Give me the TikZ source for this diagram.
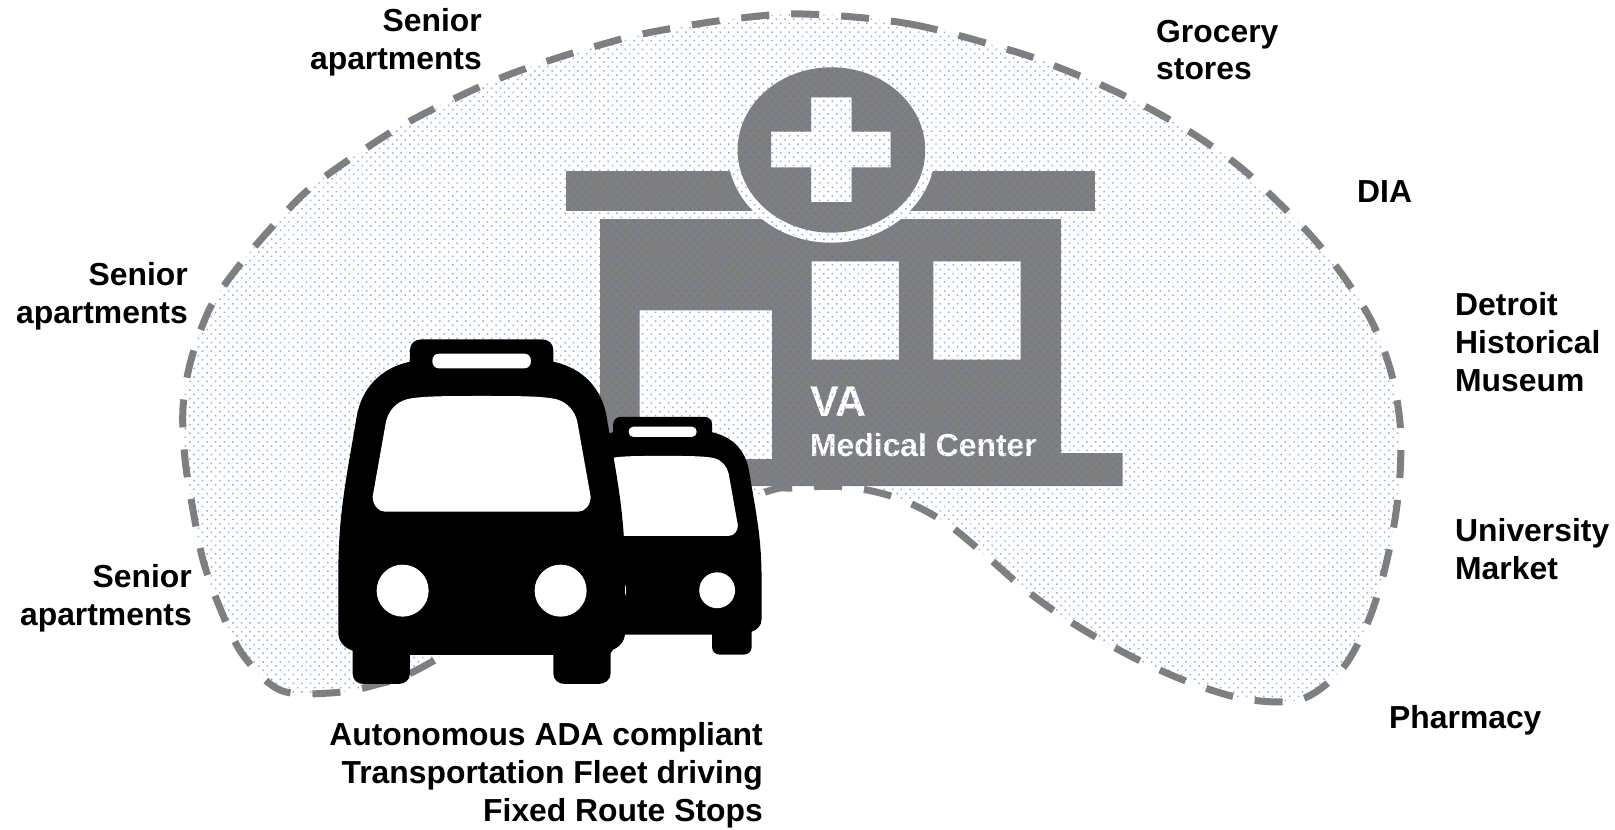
\documentclass[tikz,border=0pt]{standalone}
\usepackage{fontspec}
\setmainfont{Liberation Sans}
\usetikzlibrary{patterns.meta,calc}
\definecolor{bldg}{HTML}{7F7F7F}
\definecolor{dotc}{HTML}{4472C4}
\tikzset{
 lbl/.style={font=\fontsize{31.85}{37.9}\selectfont\bfseries,align=left,inner sep=0pt,anchor=west},
 lblr/.style={font=\fontsize{31.85}{37.9}\selectfont\bfseries,align=right,inner sep=0pt,anchor=east},
}
\newcommand{\busshape}{
 \fill[black,even odd rule]
  (330,125) -- (330,90) .. controls (330,70) and (345,58) .. (365,58) -- (725,58) .. controls (745,58) and (760,70) .. (760,90) -- (760,125)
  .. controls (850,145) and (905,205) .. (920,290) .. controls (950,470) and (975,580) .. (975,760) -- (975,940) .. controls (975,965) and (955,985) .. (932,992)
  -- (932,1060) .. controls (932,1080) and (915,1092) .. (895,1092) -- (795,1092) .. controls (775,1092) and (760,1080) .. (760,1060) -- (760,1005) -- (330,1005) -- (330,1060)
  .. controls (330,1080) and (315,1092) .. (295,1092) -- (190,1092) .. controls (172,1092) and (158,1080) .. (158,1060) -- (158,992) .. controls (135,985) and (115,965) .. (115,940)
  -- (115,760) .. controls (115,580) and (140,470) .. (170,290) .. controls (185,205) and (240,145) .. (330,125) -- cycle;
 \fill[white]
  (545,228) .. controls (650,228) and (730,228) .. (770,238) .. controls (805,248) and (825,275) .. (832,305) -- (872,530) .. controls (872,555) and (855,575) .. (835,575)
  -- (255,575) .. controls (235,575) and (218,555) .. (218,530) -- (258,305) .. controls (265,275) and (285,248) .. (320,238) .. controls (360,228) and (440,228) .. (545,228) -- cycle;
 \fill[white] (417,101) -- (673,101) .. controls (685,101) and (693,110) .. (693,123) .. controls (693,136) and (685,145) .. (673,145) -- (417,145) .. controls (405,145) and (397,136) .. (397,123) .. controls (397,110) and (405,101) .. (417,101) -- cycle;
 \fill[white] (308,812) circle (78);
 \fill[white] (782,812) circle (78);
}
\newcommand{\blobpath}{plot[smooth cycle,tension=0.55] coordinates {
 (803,14) (910,24) (1013,51) (1060,68) (1108,88) (1154,111) (1198,137) (1240,167) (1278,202) (1314,239) (1346,280) (1373,324) (1391,372) (1400,423) (1400,475) (1394,525) (1383,576) (1367,624) (1342,669) (1302,699) (1251,700) (1202,687) (1153,667) (1108,644) (1063,617) (1022,587) (983,553) (943,521) (897,498) (847,487) (795,488) (757,495) (600,560) (428,664) (375,685) (330,693) (280,690) (243,655) (220,608) (203,560) (193,510) (185,459) (183,408) (191,360) (210,308) (238,267) (272,227) (308,190) (350,159) (403,125) (462,95) (508,75) (557,58) (607,43) (647,33) (725,20)}}
\begin{document}
\begin{tikzpicture}[x=1pt,y=-1pt]
\useasboundingbox (0,0) rectangle (1615,830);
% building
\fill[bldg,even odd rule]
 (600,219) -- (1061,219) -- (1061,453) -- (1122.7,453) -- (1122.7,486) -- (600,486) -- cycle
 (639.5,310.3) rectangle (772,459)
 (811.6,261.3) rectangle (898.9,359.5)
 (933.3,261.3) rectangle (1020.6,359.5);
\fill[bldg] (566.3,170.7) rectangle (1095,211);
\fill[white] (831.4,150) ellipse [x radius=104,y radius=92.7];
\fill[bldg,even odd rule]
 (831.4,150) ellipse [x radius=93.8,y radius=82.7]
 (811.2,97.3) -- (851.5,97.3) -- (851.5,131.7) -- (890.7,131.7) -- (890.7,167.3) -- (851.5,167.3) -- (851.5,202) -- (811.2,202) -- (811.2,167.3) -- (771.2,167.3) -- (771.2,131.7) -- (811.2,131.7) -- cycle;
\node[text=white,font=\fontsize{43}{43}\selectfont\bfseries,inner sep=0pt,anchor=base west] (va) at (810,416) {VA};
\node[text=white,font=\fontsize{31.85}{32}\selectfont\bfseries,inner sep=0pt,anchor=base west] (mc) at (810,456) {Medical Center};
% blob
\path[draw=bldg,line width=7pt,dash pattern=on 28pt off 22pt] \blobpath;
\fill[pattern={Dots[radius=1.05pt,distance=6.1pt,angle=45]},pattern color=dotc,fill opacity=0.6] \blobpath;
% buses
\begin{scope}[shift={(537.3,403.5)},x=0.23pt,y=-0.23pt]
 \busshape
\end{scope}
\begin{scope}[shift={(300,320)},x=0.3333pt,y=-0.3333pt]
 \busshape
\end{scope}
% labels
\node[lblr] (sa1) at (482,42) {Senior\\apartments};
\node[lblr] (sa2) at (188,296.5) {Senior\\apartments};
\node[lblr] (sa3) at (192,598) {Senior\\apartments};
\node[lbl] (gs) at (1156,50) {Grocery\\stores};
\node[lbl] (dia) at (1357,192) {DIA};
\node[lbl] (dhm) at (1455,342) {Detroit\\Historical\\Museum};
\node[lbl] (um) at (1455,549) {University\\Market};
\node[lbl] (ph) at (1389,720) {Pharmacy};
\node[lblr] (fleet) at (763,775) {Autonomous ADA compliant\\Transportation Fleet driving\\Fixed Route Stops};
\end{tikzpicture}
\end{document}
